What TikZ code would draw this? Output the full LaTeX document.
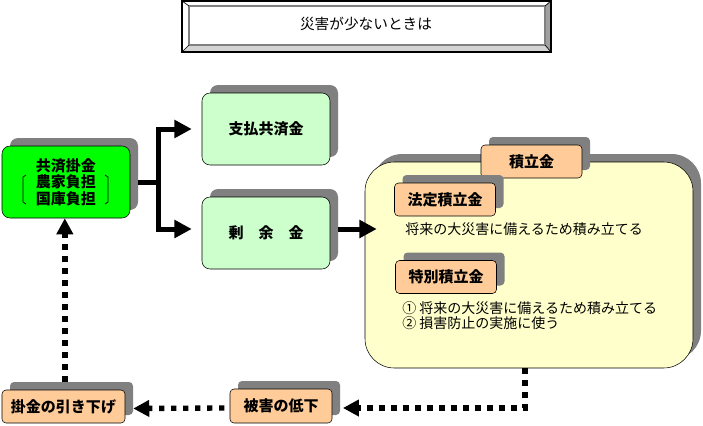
\documentclass[tikz,border=0pt]{standalone}
\usepackage{fontspec}
\setmainfont{Noto Sans CJK JP}
\usetikzlibrary{arrows.meta,shadows}

\definecolor{kakegreen}{HTML}{00FF00}
\definecolor{palegreen}{HTML}{CCFFCC}
\definecolor{paleyellow}{HTML}{FFFFCC}
\definecolor{peach}{HTML}{FFCC99}
\definecolor{shadowgray}{HTML}{808080}
\definecolor{bevelgray}{HTML}{A0A0A0}
\definecolor{bevellight}{HTML}{D4D4D4}

\tikzset{
  boxshadow/.style={general shadow={fill=shadowgray, shadow xshift=6pt, shadow yshift=6pt}},
  labelfont/.style={font=\bfseries\fontsize{11.25}{12.4}\selectfont},
  textfont/.style={font=\fontsize{10.5}{12}\selectfont},
  thickline/.style={line width=3.75pt},
  thickarrow/.style={line width=3.75pt, -{Triangle[length=13pt,width=13pt]}},
  dotarrow/.style={line width=4pt, dash pattern=on 4pt off 5pt, -{Triangle[length=12pt,width=12pt]}}
}

\begin{document}
\begin{tikzpicture}[x=0.75pt, y=-0.75pt, every node/.style={inner sep=0pt}]
\useasboundingbox (0,0) rectangle (703,425);

% title plate
\coordinate (TNW) at (182,1);
\coordinate (TNE) at (551,1);
\coordinate (TSW) at (182,52);
\coordinate (TSE) at (551,52);
\coordinate (tnw) at (189,6);
\coordinate (tne) at (545,6);
\coordinate (tsw) at (189,45);
\coordinate (tse) at (545,45);

\fill[white] (TNW) -- (TNE) -- (tne) -- (tnw) -- cycle;
\fill[white] (TNW) -- (tnw) -- (tsw) -- (TSW) -- cycle;
\fill[bevelgray] (TNE) -- (TSE) -- (tse) -- (tne) -- cycle;
\fill[bevellight] (TSW) -- (TSE) -- (tse) -- (tsw) -- cycle;
\draw[shadowgray, line width=1.2pt, fill=white] (tnw) rectangle (tse);
\draw[line width=0.5pt] (TNW) -- (tnw) (TNE) -- (tne) (TSW) -- (tsw) (TSE) -- (tse);
\draw[line width=0.9pt] (TNW) rectangle (TSE);
\node[textfont, font=\fontsize{11}{12}\selectfont] (title) at (366,24) {災害が少ないときは};

% boxes
\begin{scope}[every node/.style={inner sep=0pt, draw, rounded corners=6pt, labelfont, boxshadow, align=center}]
\node[fill=kakegreen, minimum width=96pt, minimum height=54pt] (kakekin) at (66,182) {共済掛金\\農家負担\\国庫負担};
\node[fill=palegreen, minimum width=96pt, minimum height=54pt] (pay) at (266,129) {支払共済金};
\node[fill=palegreen, minimum width=96pt, minimum height=54pt] (surplus) at (266,233) {剰　余　金};
\node[fill=paleyellow, rounded corners=22pt, minimum width=246pt, minimum height=154.5pt] (reserve) at (529,265) {};
\end{scope}

% brackets
\draw[line width=0.6pt] (26,175) -- (23,177) -- (23,202) -- (26,204);
\draw[line width=0.6pt] (105,175) -- (108,177) -- (108,202) -- (105,204);

\begin{scope}[every node/.style={inner sep=0pt, draw, rounded corners=3pt, labelfont, boxshadow, fill=peach, minimum height=24.75pt}]
\node[minimum width=75.75pt] (tsumitate) at (531.5,161.5) {積立金};
\node[minimum width=75.75pt] (hotei) at (445,199.5) {法定積立金};
\node[minimum width=75.75pt] (tokubetsu) at (446,277) {特別積立金};
\node[minimum width=92.25pt] (hikisage) at (63.5,406.5) {掛金の引き下げ};
\node[minimum width=76.5pt, minimum height=25.5pt] (teika) at (281,406) {被害の低下};
\end{scope}

\begin{scope}[every node/.style={inner sep=0pt, anchor=west, textfont}]
\node (desc1) at (405,229) {将来の大災害に備えるため積み立てる};
\node (desc2) at (402,308) {① 将来の大災害に備えるため積み立てる};
\node (desc3) at (402,323.5) {② 損害防止の実施に使う};
\end{scope}

% connectors
\coordinate (fork) at (158,182);
\draw[thickline] ([xshift=6pt]kakekin.east) -- (fork);
\draw[thickarrow] (fork) |- ([xshift=-7.5pt]pay.west);
\draw[thickarrow] (fork) |- ([xshift=-7.5pt,yshift=3pt]surplus.west);
\draw[thickarrow] ([xshift=6pt,yshift=3pt]surplus.east) -- ([xshift=9pt,yshift=3pt]surplus.east -| reserve.west);

\draw[dotarrow] ([xshift=-3pt]reserve.south) |- ([xshift=8pt,yshift=-1.5pt]teika.east);
\draw[dotarrow] ([xshift=-4pt,yshift=-1.5pt]teika.west) -- ([xshift=6pt,yshift=-1.5pt]hikisage.east);
\draw[dotarrow] ([xshift=1pt,yshift=6pt]hikisage.north) -- ([xshift=1pt]hikisage.north |- kakekin.south);

\end{tikzpicture}
\end{document}
